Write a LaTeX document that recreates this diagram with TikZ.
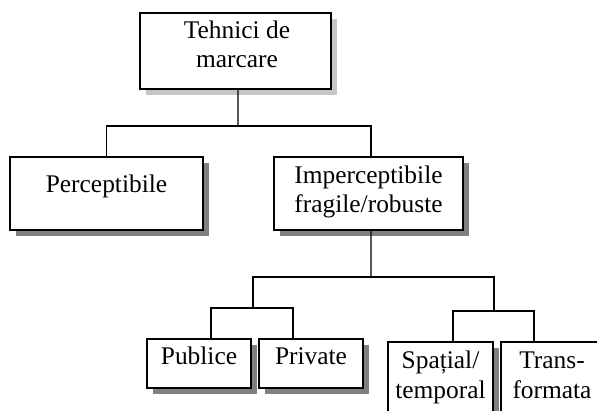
\documentclass[tikz,border=0pt]{standalone}
\usepackage{fontspec}
\setmainfont{Liberation Serif}
\usetikzlibrary{shadows,calc,patterns}
\begin{document}
\begin{tikzpicture}[x=1bp,y=-1bp,
  box/.style={draw=black,line width=2bp,fill=white,rectangle,inner sep=0pt,
    drop shadow={shadow xshift=6bp,shadow yshift=-6bp,opacity=1,fill=gray}},
  topbox/.style={draw=black,line width=2bp,fill=white,rectangle,inner sep=0pt,
    drop shadow={shadow xshift=6bp,shadow yshift=-6bp,opacity=1,fill=gray!45}},
  conn/.style={line width=1.4bp,black},
  lbl/.style={anchor=base,inner sep=0pt,font=\fontsize{25.5}{28}\selectfont}]
\useasboundingbox (0,0) rectangle (597,410);
\clip (0,0) rectangle (597,410);
% junction points
\coordinate (jt) at (238,126);
\coordinate (jm) at (371,277);
\coordinate (ja) at (253,308);
\coordinate (jb) at (494,311);
% boxes
\node[topbox,minimum width=191bp,minimum height=76bp] (top) at (235.5,51) {};
\node[box,minimum width=193bp,minimum height=73bp] (perc) at (106.5,193.5) {};
\node[box,minimum width=189bp,minimum height=73bp] (imp) at (368.5,193.5) {};
\node[box,minimum width=104bp,minimum height=49bp] (pub) at (199,363.5) {};
\node[box,minimum width=104bp,minimum height=49bp] (priv) at (311,363.5) {};
\node[box,minimum width=105bp,minimum height=88bp] (sp) at (440.5,386) {};
\node[box,minimum width=104bp,minimum height=88bp] (tr) at (553,386) {};
% connectors
\draw[conn] ($(top.south)+(2.5,0)$) -- (jt);
\draw[conn] (perc.north) |- (jt) -| ($(imp.north)+(2.5,0)$);
\draw[conn] ($(imp.south)+(2.5,0)$) -- (jm);
\draw[conn] (ja) |- (jm) -| (jb);
\draw[conn] ($(pub.north)+(12,0)$) |- (ja) -| ($(priv.north)+(-18,0)$);
\draw[conn] ($(sp.north)+(12.5,0)$) |- (jb) -| ($(tr.north)+(-19,0)$);
% texts
\node[lbl] (t1) at (237,38) {Tehnici de};
\node[lbl] (t2) at (237,67) {marcare};
\node[lbl] (t3) at (106.5,192) {Perceptibile};
\node[lbl] (t4) at (368.5,183) {Imperceptibile};
\node[lbl] (t5) at (368.5,212) {fragile/robuste};
\node[lbl] (t6) at (199,364) {Publice};
\node[lbl] (t7) at (311,364) {Private};
\node[lbl] (t8) at (440.5,368) {Spațial/};
\node[lbl] (t9) at (440.5,398) {temporal};
\node[lbl] (t10) at (552,368) {Trans-};
\node[lbl] (t11) at (552,398) {formata};
\end{tikzpicture}
\end{document}
